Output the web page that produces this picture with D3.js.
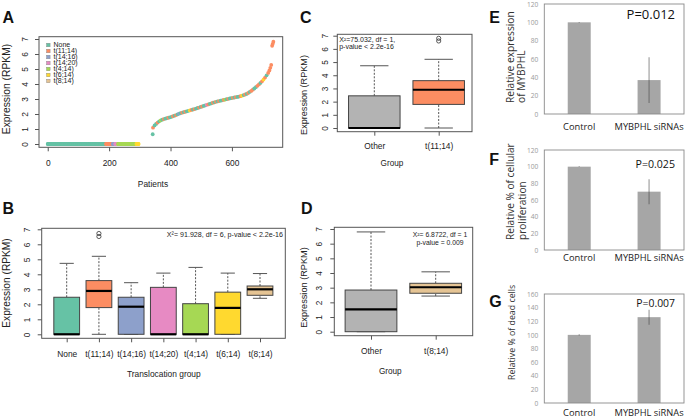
<!DOCTYPE html>
<html>
<head>
<meta charset="utf-8">
<script src="https://cdn.jsdelivr.net/npm/d3@7"></script>
<style>
  body { margin: 0; background: #fff; }
  svg { display: block; font-family: "Liberation Sans", Arial, sans-serif; }
</style>
</head>
<body>
<svg id="fig" width="685" height="419"></svg>
<script>
// ---------- data ----------
const groups = ["None", "t(11;14)", "t(14;16)", "t(14;20)", "t(4;14)", "t(6;14)", "t(8;14)"];
const groupColors = ["#66c2a5", "#fc8d62", "#8da0cb", "#e78ac3", "#a6d854", "#ffd92f", "#e5c494"];
const groupCodes = "NESTFXG"; // one letter per group, used by curveGroups

// A: patients with zero expression, in plotted order: [group index, count]
const zeroRuns = [[0, 190], [1, 22], [2, 8], [3, 9], [4, 60], [5, 8]];
// A: sorted patients with non-zero expression
const curveRank = [342, 343, 348, 353, 358, 363, 368, 373, 378, 383, 388, 393, 398, 403, 408, 413, 418, 423,
  428, 433, 438, 443, 448, 453, 458, 463, 468, 473, 478, 483, 488, 493, 498, 503, 508, 513, 518, 523, 528,
  533, 538, 543, 548, 553, 558, 563, 568, 573, 578, 583, 588, 593, 598, 603, 608, 613, 618, 623, 628, 633,
  638, 643, 648, 653, 658, 663, 668, 673, 678, 683, 688, 693, 698, 703, 708, 713, 718, 722, 725, 728,
  731, 733, 735];
const curveValue = [0.65, 1.09, 1.24, 1.34, 1.43, 1.51, 1.57, 1.62, 1.66, 1.69, 1.72, 1.75, 1.78, 1.81, 1.85,
  1.89, 1.93, 1.98, 2.02, 2.06, 2.09, 2.12, 2.15, 2.18, 2.21, 2.24, 2.27, 2.30, 2.33, 2.36, 2.40, 2.43,
  2.47, 2.50, 2.54, 2.57, 2.61, 2.64, 2.68, 2.71, 2.75, 2.78, 2.81, 2.84, 2.86, 2.89, 2.91, 2.94, 2.96,
  2.99, 3.01, 3.04, 3.06, 3.08, 3.10, 3.12, 3.14, 3.16, 3.19, 3.22, 3.26, 3.30, 3.34, 3.40, 3.47, 3.54,
  3.62, 3.70, 3.79, 3.88, 3.97, 4.07, 4.18, 4.30, 4.43, 4.58, 4.74, 4.90, 5.08, 5.27, 6.55, 6.68, 6.82];
const curveGroups = "NE" + "NNENFNENNE" + "NNENENSNEN" + "ENNXENENNE" + "NENNTENNEN" +
  "ENENNEFNEN" + "NENENNEXNE" + "NENEENNEEN" + "EXENE" + "EEE" + "EEE";

// B: boxplot stats per group [lower whisker, q1, median, q3, upper whisker]
const statsB = [[0, 0, 0, 2.47, 4.73], [0, 1.78, 2.89, 3.58, 5.2], [0, 0, 1.84, 2.47, 3.44],
  [0, 0, 0, 3.13, 4.08], [0, 0, 0, 2.04, 4.46], [0, 0, 1.76, 2.81, 4.08], [2.4, 2.6, 3.0, 3.22, 4.05]];
const outliersB = [[], [6.52, 6.72], [], [], [], [], []];
const testB = ["X\u00b2= 91.928, df = 6, p-value < 2.2e-16"];

// C
const groupsC = ["Other", "t(11;14)"];
const colorsC = ["#b3b3b3", "#fc8d62"];
const statsC = [[0, 0, 0, 2.44, 4.72], [0, 1.79, 2.9, 3.59, 5.21]];
const outliersC = [[], [6.6, 6.8]];
const testC = ["X\u00b2=75.032, df = 1,", "p-value < 2.2e-16"];

// D
const groupsD = ["Other", "t(8;14)"];
const colorsD = ["#b3b3b3", "#e5c494"];
const statsD = [[0, 0, 1.52, 2.84, 6.8], [2.43, 2.62, 3.03, 3.3, 4.08]];
const outliersD = [[], []];
const testD = ["X\u00b2= 6.8722, df = 1", "p-value = 0.009"];

// E-G: siRNA experiments
const barLabels = ["Control", "MYBPHL siRNAs"];
const exprMean = [100, 37], exprErr = [0.5, 25];
const prolifMean = [100, 70], prolifErr = [0.5, 15];
const deadMean = [100, 126], deadErr = [0.8, 11];
const pValues = ["P=0.012", "P=0.025", "P=0.007"];
const rpkmTicks = [0, 1, 2, 3, 4, 5, 6, 7];

// ---------- drawing ----------
const svg = d3.select("#fig");
const INK = "#222", FRAME = "#555";

function frame(x0, y0, x1, y1, stroke, w) {
  svg.append("rect").attr("x", x0).attr("y", y0).attr("width", x1 - x0).attr("height", y1 - y0)
    .attr("fill", "none").attr("stroke", stroke || FRAME).attr("stroke-width", w || 1);
}

function letter(t, x, y) {
  svg.append("text").attr("x", x).attr("y", y).attr("font-size", 16).attr("font-weight", "bold")
    .attr("fill", "#111").text(t);
}

function rotText(t, x, y, size, anchor, family) {
  return svg.append("text").attr("transform", `translate(${x},${y}) rotate(-90)`)
    .attr("text-anchor", anchor || "middle").attr("font-size", size).attr("fill", INK)
    .attr("font-family", family || null).text(t);
}

function plainText(t, x, y, size, anchor) {
  return svg.append("text").attr("x", x).attr("y", y).attr("text-anchor", anchor || "middle")
    .attr("font-size", size).attr("fill", INK).text(t);
}

// R style axes: ticks outside, y labels parallel to the axis
function rAxisLeft(y, x0, gap, fs) {
  const g = svg.append("g").attr("transform", `translate(${x0},0)`)
    .call(d3.axisLeft(y).tickValues(rpkmTicks).tickFormat(d3.format("d")).tickSize(4).tickSizeOuter(0));
  g.attr("font-family", null).attr("font-size", null);
  g.select(".domain").remove();
  g.selectAll("line").attr("stroke", FRAME);
  g.selectAll("text").attr("x", null).attr("dy", null).attr("fill", INK).attr("font-size", fs)
    .attr("text-anchor", "middle").attr("transform", `translate(${-gap},0) rotate(-90)`);
}

function rAxisBottom(x, y0, ticks, labels, off, fs) {
  const g = svg.append("g").attr("transform", `translate(0,${y0})`)
    .call(d3.axisBottom(x).tickValues(ticks).tickSize(4).tickSizeOuter(0)
      .tickFormat((d, i) => labels ? labels[i] : d));
  g.attr("font-family", null).attr("font-size", null);
  g.select(".domain").remove();
  g.selectAll("line").attr("stroke", FRAME);
  g.selectAll("text").attr("y", off).attr("dy", null).attr("fill", INK).attr("font-size", fs);
}

function drawBoxes(x, y, stats, outliers, colors) {
  const unit = x(2) - x(1), hb = 0.4 * unit, hc = 0.22 * unit;
  const g = svg.append("g");
  stats.forEach((s, i) => {
    const cx = x(i + 1), [lw, q1, med, q3, uw] = s;
    [[q3, uw], [lw, q1]].forEach(([a, b]) => {
      if (b > a) g.append("line").attr("x1", cx).attr("x2", cx).attr("y1", y(a)).attr("y2", y(b))
        .attr("stroke", "#555").attr("stroke-dasharray", "2,1.5");
    });
    [lw, uw].forEach(v => g.append("line").attr("x1", cx - hc).attr("x2", cx + hc)
      .attr("y1", y(v)).attr("y2", y(v)).attr("stroke", "#555"));
    g.append("rect").attr("x", cx - hb).attr("width", 2 * hb).attr("y", y(q3))
      .attr("height", y(q1) - y(q3)).attr("fill", colors[i]).attr("stroke", "#444");
    g.append("line").attr("x1", cx - hb).attr("x2", cx + hb).attr("y1", y(med)).attr("y2", y(med))
      .attr("stroke", "#000").attr("stroke-width", 2.2);
    outliers[i].forEach(v => g.append("circle").attr("cx", cx).attr("cy", y(v)).attr("r", 2.1)
      .attr("fill", "none").attr("stroke", "#333").attr("stroke-width", 0.8));
  });
}

// ---- A ----
{
  const xA = d3.scaleLinear().domain([-28.4, 765.4]).range([39, 282.7]);
  const yA = d3.scaleLinear().domain([0, 7]).range([144, 39]);
  const pts = [];
  let rank = 0;
  zeroRuns.forEach(([gi, n]) => { for (let k = 0; k < n; k++) pts.push({ rank: rank++, v: 0, g: gi }); });
  curveRank.forEach((r, i) => pts.push({ rank: r, v: curveValue[i], g: Math.max(0, groupCodes.indexOf(curveGroups[i])) }));
  svg.append("g").selectAll("circle").data(pts).join("circle")
    .attr("cx", d => xA(d.rank)).attr("cy", d => yA(d.v)).attr("r", 1.9)
    .attr("fill", d => groupColors[d.g]);
  frame(39, 36.7, 282.7, 147.3);
  rAxisLeft(yA, 39, 11, 8.4);
  rAxisBottom(xA, 147.3, [0, 200, 400, 600], null, 18.7, 8.4);
  plainText("Patients", 153, 186.5, 8.4);
  rotText("Expression (RPKM)", 9.7, 89, 10.3);
  const leg = svg.append("g");
  groups.forEach((gname, i) => {
    const cy = 45 + i * 6;
    leg.append("rect").attr("x", 46.5).attr("y", cy - 1.8).attr("width", 3.6).attr("height", 3.6)
      .attr("fill", groupColors[i]).attr("stroke", "#888").attr("stroke-width", 0.4);
    leg.append("text").attr("x", 53.5).attr("y", cy + 2.4).attr("font-size", 7).attr("fill", INK).text(gname);
  });
  letter("A", 2.5, 23.3);
}

// ---- B ----
{
  const xB = d3.scaleLinear().domain([1, 7]).range([66.7, 260]);
  const yB = d3.scaleLinear().domain([0, 7]).range([334.3, 229.3]);
  drawBoxes(xB, yB, statsB, outliersB, groupColors);
  frame(41.7, 228.3, 285.3, 338.3);
  rAxisLeft(yB, 41.7, 12, 8.4);
  rAxisBottom(xB, 338.3, d3.range(1, 8), groups, 19, 8.4);
  plainText("Translocation group", 163.8, 377, 8.4);
  rotText("Expression (RPKM)", 9.7, 283, 10.2);
  plainText(testB[0], 283, 236.8, 7.1, "end");
  letter("B", 2.5, 214);
}

// ---- C ----
{
  const xC = d3.scaleLinear().domain([1, 2]).range([374.3, 438.7]);
  const yC = d3.scaleLinear().domain([0, 7]).range([128, 35.7]);
  drawBoxes(xC, yC, statsC, outliersC, colorsC);
  frame(337.3, 34.3, 472, 131.7);
  rAxisLeft(yC, 337.3, 9.3, 8.2);
  rAxisBottom(xC, 131.7, [1, 2], groupsC, 17, 8.4);
  plainText("Group", 392, 166, 8.2);
  rotText("Expression (RPKM)", 306.6, 95, 9.1);
  testC.forEach((t, i) => plainText(t, 339.2, 41.5 + i * 7.7, 7, "start"));
  letter("C", 300, 22.7);
}

// ---- D ----
{
  const xD = d3.scaleLinear().domain([1, 2]).range([371, 435.7]);
  const yD = d3.scaleLinear().domain([0, 7]).range([331.7, 229]);
  drawBoxes(xD, yD, statsD, outliersD, colorsD);
  frame(334.3, 227.3, 472.7, 335.7);
  rAxisLeft(yD, 334.3, 12.3, 8.2);
  rAxisBottom(xD, 335.7, [1, 2], groupsD, 18, 8.4);
  plainText("Group", 390.3, 373.5, 8.2);
  rotText("Expression (RPKM)", 306.6, 287.5, 9.2);
  testD.forEach((t, i) => plainText(t, 440, 236.5 + i * 8.3, 6.8));
  letter("D", 301, 214);
}

// ---- E, F, G ----
function barPanel(cfg) {
  const x = d3.scaleBand().domain(barLabels).range([544.3, 684]);
  const y = d3.scaleLinear().domain([0, cfg.max]).range([cfg.bottom, cfg.top]);
  const bw = 23;
  const ax = svg.append("g").attr("transform", "translate(544.3,0)")
    .call(d3.axisLeft(y).tickValues(d3.range(0, cfg.max + 1, 20)).tickSize(0).tickPadding(6));
  ax.attr("font-family", "'Open Sans', sans-serif").attr("font-size", 6.6);
  ax.select(".domain").remove();
  ax.selectAll("text").attr("fill", "#9a9a9a");
  const g = svg.append("g");
  g.selectAll("rect").data(cfg.mean).join("rect")
    .attr("x", (d, i) => x(barLabels[i]) + x.bandwidth() / 2 - bw / 2).attr("width", bw)
    .attr("y", d => y(d)).attr("height", d => cfg.bottom - y(d)).attr("fill", "#a6a6a6");
  g.selectAll("line").data(cfg.mean).join("line")
    .attr("x1", (d, i) => x(barLabels[i]) + x.bandwidth() / 2)
    .attr("x2", (d, i) => x(barLabels[i]) + x.bandwidth() / 2)
    .attr("y1", (d, i) => y(d - cfg.err[i])).attr("y2", (d, i) => y(d + cfg.err[i]))
    .attr("stroke", "#404040").attr("stroke-opacity", 0.45).attr("stroke-width", 1.3);
  frame(544.3, cfg.top, 684, cfg.bottom, "#8a8a8a", 0.9);
  barLabels.forEach(l => plainText(l, x(l) + x.bandwidth() / 2, cfg.labY, 9.3)
    .attr("font-family", "'Open Sans', sans-serif"));
  plainText(cfg.p, 675, cfg.pY, cfg.pSize, "end").attr("font-family", "'Open Sans', sans-serif").attr("fill", "#111");
  cfg.title.forEach((t, i) => rotText(t, cfg.titleX + i * 11.7, cfg.titleY, cfg.titleSize, "start",
    "'Open Sans', sans-serif").attr("fill", "#333"));
  letter(cfg.letter, 489.3, cfg.letterY);
}

barPanel({ mean: exprMean, err: exprErr, max: 120, top: 4, bottom: 114, labY: 129.5,
  p: pValues[0], pY: 19.3, pSize: 13, title: ["Relative expression", "of MYBPHL"],
  titleX: 513.6, titleY: 103, titleSize: 10.2, letter: "E", letterY: 22.7 });
barPanel({ mean: prolifMean, err: prolifErr, max: 120, top: 150, bottom: 250, labY: 261.3,
  p: pValues[1], pY: 168.3, pSize: 10.6, title: ["Relative % of cellular", "proliferation"],
  titleX: 514.3, titleY: 240, titleSize: 10.1, letter: "F", letterY: 165 });
barPanel({ mean: deadMean, err: deadErr, max: 160, top: 294, bottom: 403, labY: 415.8,
  p: pValues[2], pY: 307.3, pSize: 10.4, title: ["Relative % of dead cells"],
  titleX: 515, titleY: 380, titleSize: 8.8, letter: "G", letterY: 306.7 });
</script>
</body>
</html>
